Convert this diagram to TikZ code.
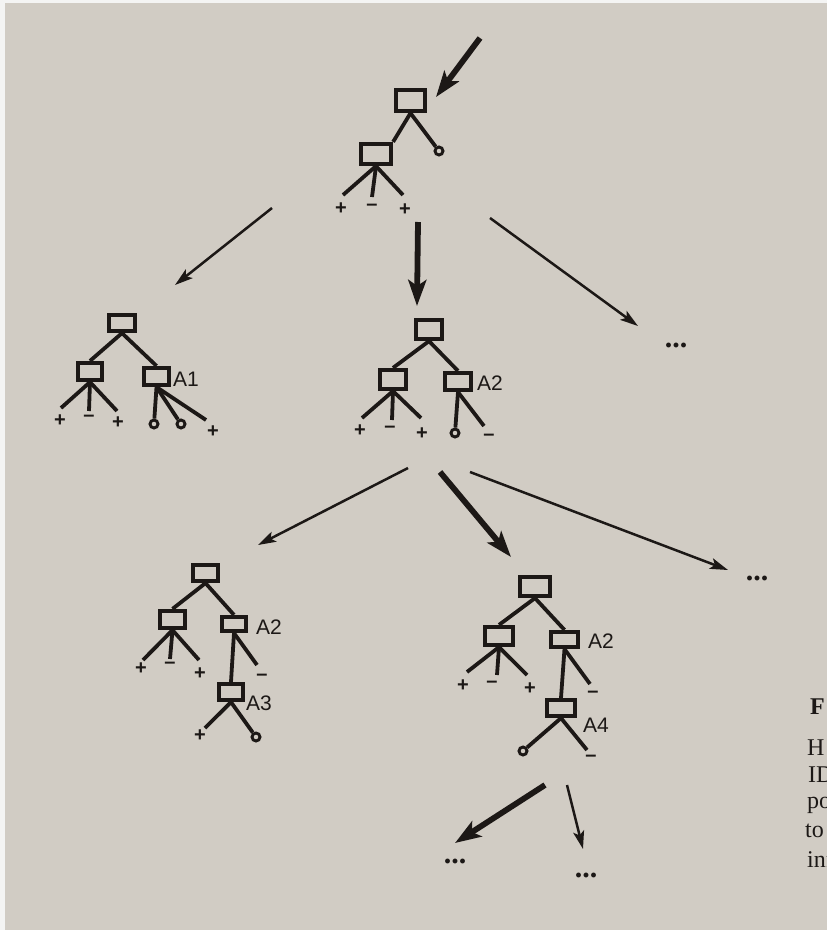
\documentclass[tikz,border=0pt]{standalone}
\usepackage{fontspec}
\setmainfont{Liberation Serif}
\newfontfamily\labelfont{Liberation Sans}
\usetikzlibrary{arrows.meta}
\definecolor{paper}{RGB}{209,204,196}
\definecolor{edge}{RGB}{244,244,243}
\definecolor{ink}{RGB}{28,24,22}
\tikzset{
  tbox/.style={draw=ink, line width=4.2pt, fill=paper, inner sep=0pt},
  branch/.style={draw=ink, line width=3.8pt},
  leafo/.style={circle, draw=ink, line width=2.9pt, fill=paper, inner sep=0pt, minimum size=8pt},
  sign/.style={text=ink, font=\labelfont\bfseries\fontsize{20}{20}\selectfont, inner sep=0pt},
  attr/.style={text=ink, font=\labelfont\fontsize{21}{21}\selectfont, inner sep=0pt},
  more/.style={text=ink, font=\bfseries\fontsize{30}{30}\selectfont, inner sep=0pt},
  thinarrow/.style={draw=ink, line width=2.5pt, -{Stealth[length=18pt,width=11pt,inset=4pt]}},
  thickarrow/.style={draw=ink, line width=5.8pt, -{Stealth[length=26pt,width=18pt,inset=6pt]}},
  margintext/.style={text=ink, font=\fontsize{24}{24}\selectfont, inner sep=0pt, anchor=base west},
}
\begin{document}
\begin{tikzpicture}[x=1pt, y=-1pt]
\useasboundingbox (0,0) rectangle (827,930);
\clip (0,0) rectangle (827,930);
\fill[paper] (0,0) rectangle (827,930);
% light page border along the left and top
\fill[edge] (0,0) rectangle (5,930);
\fill[edge] (0,0) rectangle (827,3);

% ---------- top tree ----------
\coordinate (in0) at (480,38);
\coordinate (in1) at (436,97);
\draw[thickarrow] (in0) -- (in1);
\node[tbox, minimum width=29pt, minimum height=21pt] (r0) at (410.5,100.5) {};
\node[tbox, minimum width=30pt, minimum height=20pt] (c0) at (376,154) {};
\node[leafo] (o0) at (439,151) {};
\coordinate (l0a) at (343,195);
\coordinate (l0b) at (372,197);
\coordinate (l0c) at (403,195);
\draw[branch] (r0.south) -- (c0.north east);
\draw[branch] (r0.south) -- (o0);
\draw[branch] (c0.south) -- (l0a);
\draw[branch] (c0.south) -- (l0b);
\draw[branch] (c0.south) -- (l0c);
\node[sign] (p0a) at (341,209) {+};
\node[sign] (m0b) at (372,207) {–};
\node[sign] (p0c) at (405,210) {+};

% arrows to the second level
\coordinate (s1) at (272,208); \coordinate (e1) at (175,285);
\coordinate (s2) at (418,222); \coordinate (e2) at (417,306);
\coordinate (s3) at (490,218); \coordinate (e3) at (638,326);
\draw[thinarrow] (s1) -- (e1);
\draw[thickarrow] (s2) -- (e2);
\draw[thinarrow] (s3) -- (e3);
\node[more] (d1) at (676,345) {...};

% ---------- tree with A1 ----------
\node[tbox, minimum width=26pt, minimum height=16pt] (r1) at (122,323) {};
\node[tbox, minimum width=24pt, minimum height=17pt] (c1a) at (90,371.5) {};
\node[tbox, minimum width=25pt, minimum height=17pt] (c1b) at (156.5,376.5) {};
\node[attr, anchor=west] (a1) at (173,379) {A1};
\draw[branch] (r1.south) -- (c1a.north);
\draw[branch] (r1.south) -- (c1b.north);
\coordinate (l1a) at (61,408);
\coordinate (l1b) at (89,411);
\coordinate (l1c) at (117,411);
\draw[branch] (c1a.south) -- (l1a);
\draw[branch] (c1a.south) -- (l1b);
\draw[branch] (c1a.south) -- (l1c);
\node[sign] (p1a) at (60,421) {+};
\node[sign] (m1b) at (89,418) {–};
\node[sign] (p1c) at (118,423) {+};
\node[leafo] (o1a) at (154,424) {};
\node[leafo] (o1b) at (181,424) {};
\coordinate (l1d) at (206,420);
\draw[branch] (c1b.south) -- (o1a);
\draw[branch] (c1b.south) -- (o1b);
\draw[branch] (c1b.south) -- (l1d);
\node[sign] (p1d) at (213,432) {+};

% ---------- tree with A2 ----------
\node[tbox, minimum width=26pt, minimum height=19pt] (r2) at (429,329.5) {};
\node[tbox, minimum width=26pt, minimum height=19pt] (c2a) at (393,379.5) {};
\node[tbox, minimum width=26pt, minimum height=17pt] (c2b) at (458,381.5) {};
\node[attr, anchor=west] (a2) at (477,383) {A2};
\draw[branch] (r2.south) -- (c2a.north);
\draw[branch] (r2.south) -- (c2b.north);
\coordinate (l2a) at (362,418);
\coordinate (l2b) at (392,420);
\coordinate (l2c) at (421,418);
\draw[branch] (c2a.south) -- (l2a);
\draw[branch] (c2a.south) -- (l2b);
\draw[branch] (c2a.south) -- (l2c);
\node[sign] (p2a) at (360,431) {+};
\node[sign] (m2b) at (390,429) {–};
\node[sign] (p2c) at (422,434) {+};
\node[leafo] (o2) at (455,433) {};
\coordinate (l2d) at (484,426);
\draw[branch] (c2b.south) -- (o2);
\draw[branch] (c2b.south) -- (l2d);
\node[sign] (m2d) at (489,437) {–};

% arrows to the third level
\coordinate (s4) at (408,468); \coordinate (e4) at (258,545);
\coordinate (s5) at (440,472); \coordinate (e5) at (511,557);
\coordinate (s6) at (470,472); \coordinate (e6) at (728,570);
\draw[thinarrow] (s4) -- (e4);
\draw[thickarrow] (s5) -- (e5);
\draw[thinarrow] (s6) -- (e6);
\node[more] (d2) at (757,578) {...};

% ---------- tree with A2 and A3 ----------
\node[tbox, minimum width=25pt, minimum height=16pt] (r3) at (205.5,573) {};
\node[tbox, minimum width=25pt, minimum height=17pt] (c3a) at (172.5,619.5) {};
\node[tbox, minimum width=24pt, minimum height=14pt] (c3b) at (234,624) {};
\node[attr, anchor=west] (a3) at (256,627) {A2};
\draw[branch] (r3.south) -- (c3a.north);
\draw[branch] (r3.south) -- (c3b.north);
\coordinate (l3a) at (143,660);
\coordinate (l3b) at (170,659);
\coordinate (l3c) at (199,660);
\draw[branch] (c3a.south) -- (l3a);
\draw[branch] (c3a.south) -- (l3b);
\draw[branch] (c3a.south) -- (l3c);
\node[sign] (p3a) at (141,669) {+};
\node[sign] (m3b) at (170,665) {–};
\node[sign] (p3c) at (200,674) {+};
\node[tbox, minimum width=24pt, minimum height=16pt] (c3c) at (231,692) {};
\node[attr, anchor=west] (a4) at (246,703) {A3};
\coordinate (l3d) at (257,665);
\draw[branch] (c3b.south) -- (c3c.north);
\draw[branch] (c3b.south) -- (l3d);
\node[sign] (m3d) at (262,677) {–};
\coordinate (l3e) at (205,728);
\node[leafo] (o3) at (256,737) {};
\draw[branch] (c3c.south) -- (l3e);
\draw[branch] (c3c.south) -- (o3);
\node[sign] (p3e) at (200,736) {+};

% ---------- tree with A2 and A4 ----------
\node[tbox, minimum width=30pt, minimum height=19pt] (r4) at (535,586.5) {};
\node[tbox, minimum width=28pt, minimum height=18pt] (c4a) at (499,636) {};
\node[tbox, minimum width=27pt, minimum height=15pt] (c4b) at (564.5,639.5) {};
\node[attr, anchor=west] (a5) at (588,641) {A2};
\draw[branch] (r4.south) -- (c4a.north);
\draw[branch] (r4.south) -- (c4b.north);
\coordinate (l4a) at (467,672);
\coordinate (l4b) at (497,675);
\coordinate (l4c) at (527,675);
\draw[branch] (c4a.south) -- (l4a);
\draw[branch] (c4a.south) -- (l4b);
\draw[branch] (c4a.south) -- (l4c);
\node[sign] (p4a) at (463,686) {+};
\node[sign] (m4b) at (492,684) {–};
\node[sign] (p4c) at (530,689) {+};
\node[tbox, minimum width=28pt, minimum height=16pt] (c4c) at (561,708) {};
\node[attr, anchor=west] (a6) at (583,725) {A4};
\coordinate (l4d) at (590,684);
\draw[branch] (c4b.south) -- (c4c.north);
\draw[branch] (c4b.south) -- (l4d);
\node[sign] (m4d) at (593,694) {–};
\node[leafo] (o4) at (523,751) {};
\coordinate (l4e) at (587,750);
\draw[branch] (c4c.south) -- (o4);
\draw[branch] (c4c.south) -- (l4e);
\node[sign] (m4e) at (591,758) {–};

% arrows to the fourth level
\coordinate (s7) at (545,785); \coordinate (e7) at (455,843);
\coordinate (s8) at (567,785); \coordinate (e8) at (583,849);
\draw[thickarrow] (s7) -- (e7);
\draw[thinarrow] (s8) -- (e8);
\node[more] (d3) at (455,861) {...};
\node[more] (d4) at (586,875) {...};

% ---------- caption edge ----------
\node[margintext, font=\bfseries\fontsize{24}{24}\selectfont] (t1) at (810,714) {F};
\node[margintext] (t2) at (807,755) {H};
\node[margintext] (t3) at (808,782) {ID};
\node[margintext] (t4) at (807,808) {po};
\node[margintext] (t5) at (805,837) {to};
\node[margintext] (t6) at (807,867) {inf};
\end{tikzpicture}
\end{document}
